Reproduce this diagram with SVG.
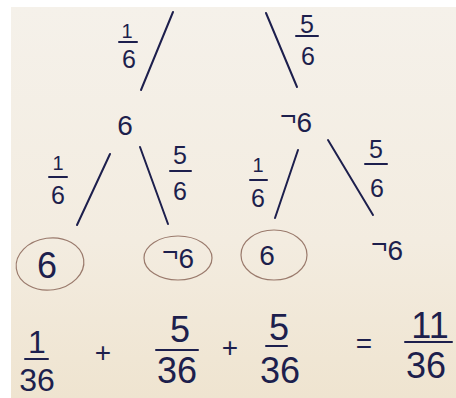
<svg xmlns="http://www.w3.org/2000/svg" width="456" height="398" viewBox="0 0 456 398">
<defs>
<linearGradient id="bg" x1="0" y1="0" x2="0" y2="1">
<stop offset="0" stop-color="#f5f1ea"/>
<stop offset="0.6" stop-color="#f3ece0"/>
<stop offset="1" stop-color="#efe4d0"/>
</linearGradient>
<style>
text{font-family:"Liberation Sans","DejaVu Sans",sans-serif;fill:#1d1f4d;text-anchor:middle}
.edge{stroke:#1d1f4d;stroke-width:2;stroke-linecap:round;fill:none}
.bar{stroke:#1d1f4d;stroke-width:2;stroke-linecap:round}
.ring{fill:none;stroke:#9a7a6c;stroke-width:1.2}
.fn{font-size:20px}
.fs{font-size:25px}
.fm{font-size:28px}
.fl{font-size:32px}
.fb{font-size:36px}
</style>
</defs>
<rect width="456" height="398" fill="#ffffff"/>
<rect x="11" y="7" width="445" height="391" fill="url(#bg)"/>

<g id="connectors">
<line class="edge" x1="173" y1="12" x2="141" y2="90"/>
<line class="edge" x1="266" y1="13" x2="297" y2="87"/>
<line class="edge" x1="110" y1="154" x2="77" y2="225"/>
<line class="edge" x1="140" y1="147" x2="168" y2="224"/>
<line class="edge" x1="298" y1="150" x2="275" y2="218"/>
<line class="edge" x1="328" y1="140" x2="373" y2="215"/>
</g>

<g id="edge-labels">
<g id="lbl-top-left"><text class="fn" x="127" y="38">1</text><line class="bar" x1="119" y1="42" x2="137" y2="42"/><text class="fs" x="129" y="68">6</text></g>
<g id="lbl-top-right"><text class="fs" x="307" y="33">5</text><line class="bar" x1="296" y1="36" x2="318" y2="36"/><text class="fs" x="308" y="65">6</text></g>
<g id="lbl-6-left"><text class="fn" x="58" y="170">1</text><line class="bar" x1="49" y1="177" x2="67" y2="177"/><text class="fs" x="58" y="204">6</text></g>
<g id="lbl-6-right"><text class="fs" x="180" y="164">5</text><line class="bar" x1="170" y1="171" x2="191" y2="171"/><text class="fs" x="180" y="200">6</text></g>
<g id="lbl-n6-left"><text class="fn" x="258" y="172">1</text><line class="bar" x1="250" y1="180" x2="267" y2="180"/><text class="fs" x="258" y="207">6</text></g>
<g id="lbl-n6-right"><text class="fs" x="376" y="158">5</text><line class="bar" x1="365" y1="164" x2="387" y2="164"/><text class="fs" x="377" y="197">6</text></g>
</g>

<g id="node-6"><text class="fm" x="125" y="135">6</text></g>
<g id="node-n6"><text class="fm" x="296" y="132"><tspan dy="-7">¬</tspan><tspan dy="7">6</tspan></text></g>

<g id="leaf-6-6"><ellipse class="ring" cx="50" cy="264" rx="34" ry="26" transform="rotate(-8 50 264)"/><text class="fb" x="47" y="278">6</text></g>
<g id="leaf-6-n6"><ellipse class="ring" cx="178" cy="258" rx="34" ry="22"/><text class="fm" x="178" y="268"><tspan dy="-7">¬</tspan><tspan dy="7">6</tspan></text></g>
<g id="leaf-n6-6"><ellipse class="ring" cx="274" cy="255" rx="33" ry="25"/><text class="fm" x="267" y="265">6</text></g>
<g id="leaf-n6-n6"><text class="fm" x="387" y="260"><tspan dy="-7">¬</tspan><tspan dy="7">6</tspan></text></g>

<g id="equation">
<text class="fl" x="37" y="353">1</text><line class="bar" x1="25" y1="359" x2="48" y2="359"/><text class="fl" x="37" y="391">36</text>
<text class="fm" x="103" y="362">+</text>
<text class="fb" x="180" y="342">5</text><line class="bar" x1="156" y1="350" x2="198" y2="350"/><text class="fb" x="177" y="383">36</text>
<text class="fm" x="230" y="357">+</text>
<text class="fb" x="279" y="340">5</text><line class="bar" x1="266" y1="346" x2="287" y2="346"/><text class="fb" x="280" y="383">36</text>
<text class="fm" x="364" y="353">=</text>
<text class="fb" x="430" y="338">11</text><line class="bar" x1="405" y1="342" x2="452" y2="342"/><text class="fb" x="426" y="378">36</text>
</g>
</svg>
